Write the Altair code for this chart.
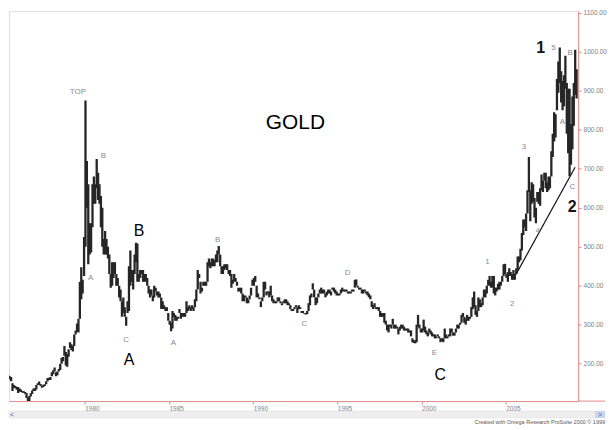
import altair as alt
import pandas as pd

# ---- monthly high / low of gold (USD/oz) ----
FIRST_YEAR, FIRST_MONTH = 1975, 4
highs = {
    1975: [178, 175, 170, 168, 166, 150, 145, 143, 140],
    1976: [140, 136, 134, 130, 129, 127, 125, 113, 117, 124, 131, 136],
    1977: [137, 145, 150, 154, 148, 143, 146, 147, 155, 163, 164, 166],
    1978: [178, 183, 190, 178, 180, 186, 200, 215, 217, 245, 230, 225],
    1979: [237, 255, 250, 246, 275, 285, 303, 315, 410, 447, 415, 525],
    1980: [875, 720, 660, 560, 560, 660, 680, 660, 725, 690, 660, 630],
    1981: [600, 520, 540, 520, 500, 480, 430, 460, 460, 460, 430, 420],
    1982: [400, 390, 360, 370, 345, 320, 360, 450, 490, 440, 440, 480],
    1983: [510, 508, 430, 440, 440, 440, 430, 430, 420, 400, 390, 390],
    1984: [375, 400, 395, 385, 385, 380, 370, 360, 350, 345, 345, 330],
    1985: [310, 305, 335, 330, 325, 320, 320, 340, 330, 330, 330, 330],
    1986: [360, 345, 350, 345, 350, 345, 365, 390, 440, 430, 410, 395],
    1987: [410, 410, 410, 460, 470, 460, 470, 470, 465, 480, 490, 502],
    1988: [480, 450, 450, 455, 455, 455, 440, 440, 430, 415, 430, 420],
    1989: [410, 395, 395, 395, 380, 375, 375, 370, 365, 375, 395, 415],
    1990: [420, 425, 400, 380, 370, 360, 370, 410, 410, 385, 385, 385],
    1991: [400, 375, 365, 360, 360, 370, 370, 360, 355, 360, 365, 365],
    1992: [360, 355, 350, 340, 340, 345, 350, 345, 350, 345, 335, 335],
    1993: [330, 330, 335, 355, 375, 380, 406, 390, 370, 370, 380, 390],
    1994: [395, 390, 390, 380, 385, 390, 390, 385, 395, 395, 390, 385],
    1995: [380, 380, 390, 395, 390, 390, 390, 385, 385, 385, 390, 390],
    1996: [415, 416, 400, 395, 395, 390, 390, 390, 385, 385, 380, 375],
    1997: [360, 350, 355, 345, 345, 345, 335, 330, 330, 330, 310, 300],
    1998: [300, 300, 300, 315, 300, 300, 295, 290, 295, 300, 300, 295],
    1999: [290, 290, 290, 285, 285, 265, 260, 260, 300, 325, 300, 290],
    2000: [290, 313, 295, 285, 280, 290, 285, 280, 275, 275, 270, 275],
    2001: [270, 265, 265, 265, 290, 275, 270, 275, 290, 290, 280, 280],
    2002: [290, 300, 300, 305, 325, 330, 320, 315, 325, 320, 320, 345],
    2003: [370, 385, 350, 335, 370, 365, 355, 370, 390, 390, 400, 415],
    2004: [425, 410, 425, 425, 395, 395, 405, 410, 410, 425, 455, 456],
    2005: [430, 435, 445, 435, 430, 440, 430, 445, 475, 475, 495, 535],
    2006: [570, 570, 585, 645, 730, 645, 665, 660, 625, 600, 640, 640],
    2007: [650, 685, 670, 690, 690, 665, 680, 680, 745, 790, 845, 840],
    2008: [930, 975, 1011, 950, 925, 940, 990, 920, 905, 905, 815, 885],
    2009: [920, 1005, 955],
}
lows = {
    1975: [165, 164, 162, 160, 155, 130, 138, 137, 133],
    1976: [125, 128, 128, 126, 125, 123, 112, 103, 104, 116, 122, 130],
    1977: [130, 134, 145, 146, 143, 138, 140, 143, 147, 155, 158, 158],
    1978: [168, 173, 180, 168, 170, 180, 184, 200, 206, 220, 195, 192],
    1979: [218, 240, 235, 231, 245, 275, 282, 280, 315, 365, 380, 425],
    1980: [500, 600, 455, 480, 485, 550, 610, 610, 650, 620, 610, 550],
    1981: [500, 480, 480, 480, 470, 430, 395, 400, 420, 430, 400, 400],
    1982: [370, 360, 320, 330, 320, 297, 330, 335, 400, 410, 390, 430],
    1983: [460, 410, 410, 420, 430, 410, 410, 410, 400, 380, 370, 375],
    1984: [360, 370, 385, 375, 370, 370, 340, 340, 340, 335, 335, 310],
    1985: [300, 283, 290, 320, 310, 310, 315, 330, 315, 320, 320, 320],
    1986: [330, 335, 340, 335, 340, 335, 345, 360, 390, 420, 380, 385],
    1987: [400, 400, 400, 410, 450, 445, 450, 450, 450, 460, 460, 480],
    1988: [450, 430, 430, 440, 445, 440, 430, 425, 395, 405, 410, 410],
    1989: [400, 385, 385, 380, 360, 360, 370, 355, 355, 365, 375, 400],
    1990: [400, 410, 370, 370, 365, 345, 360, 370, 390, 375, 380, 370],
    1991: [375, 360, 355, 355, 355, 360, 360, 355, 350, 355, 355, 355],
    1992: [350, 350, 340, 335, 335, 340, 345, 330, 340, 340, 330, 330],
    1993: [328, 326, 327, 335, 350, 370, 390, 370, 350, 355, 370, 380],
    1994: [380, 380, 380, 370, 375, 380, 380, 375, 390, 385, 380, 375],
    1995: [375, 375, 380, 385, 385, 385, 385, 380, 380, 380, 385, 385],
    1996: [395, 400, 395, 390, 390, 380, 380, 385, 380, 375, 370, 365],
    1997: [345, 340, 345, 340, 340, 335, 320, 320, 320, 305, 300, 285],
    1998: [280, 295, 290, 300, 290, 290, 290, 275, 285, 290, 290, 285],
    1999: [285, 285, 280, 280, 270, 255, 253, 252, 255, 295, 290, 280],
    2000: [280, 285, 280, 275, 270, 280, 275, 270, 270, 265, 265, 270],
    2001: [265, 255, 258, 255, 265, 265, 265, 270, 270, 280, 272, 272],
    2002: [280, 290, 290, 300, 305, 320, 305, 300, 310, 310, 315, 320],
    2003: [340, 345, 325, 320, 335, 345, 345, 350, 370, 370, 380, 400],
    2004: [400, 395, 395, 380, 375, 385, 390, 390, 400, 410, 425, 430],
    2005: [420, 410, 425, 425, 415, 415, 415, 430, 440, 460, 465, 490],
    2006: [530, 550, 540, 585, 640, 565, 610, 615, 575, 560, 615, 610],
    2007: [605, 645, 640, 670, 650, 640, 645, 650, 680, 730, 770, 780],
    2008: [850, 895, 920, 870, 850, 860, 905, 790, 740, 681, 710, 750],
    2009: [810, 890, 880],
}

# wave annotations (year, price, text)
small_labels = [
    (1979.59, 898, "TOP"), (1981.11, 732, "B"), (1980.35, 419, "A"),
    (1982.46, 261, "C"), (1985.26, 253, "A"), (1987.89, 518, "B"),
    (1993.04, 302, "C"), (1995.61, 432, "D"), (2000.76, 228, "E"),
    (2003.92, 460, "1"), (2005.38, 353, "2"), (2006.08, 755, "3"),
    (2006.90, 539, "4"), (2007.84, 1010, "5"), (2008.83, 997, "B"),
    (2008.36, 819, "A"), (2008.95, 653, "C"),
]
big_labels = [
    (1983.22, 541, "B", "normal"), (1982.63, 210, "A", "normal"),
    (2001.11, 172, "C", "normal"), (2007.08, 1010, "1", "bold"),
    (2008.95, 602, "2", "bold"),
]
trend_t = [2005.61, 2009.12]
trend_p = [429, 704]
title_pos = (1992.51, 817)

x_ticks = [1980, 1985, 1990, 1995, 2000, 2005]
y_ticks = [200, 300, 400, 500, 600, 700, 800, 900, 1000, 1100]

rows = []
for yr in sorted(highs):
    m0 = FIRST_MONTH if yr == FIRST_YEAR else 1
    for i, (h, l) in enumerate(zip(highs[yr], lows[yr])):
        m = m0 + i
        rows.append({"t": yr + (m - 0.5) / 12.0, "hi": h, "lo": l})
df = pd.DataFrame(rows)

RED = "#e38b8b"
W, H = 572, 392
xs = alt.Scale(domain=[1975.5, 2009.3], nice=False, zero=False)
ys = alt.Scale(domain=[104, 1104.5], nice=False, zero=False)

bars = alt.Chart(df).mark_rule(color="#262626", strokeWidth=2.3, clip=True).encode(
    x=alt.X("t:Q", scale=xs,
            axis=alt.Axis(values=x_ticks, format="d", title=None, grid=False,
                          labelAlign="left", labelFontSize=6.5, labelColor="#808080",
                          labelPadding=1, tickSize=3, tickColor=RED,
                          domainColor=RED, labelFlush=False)),
    y=alt.Y("lo:Q", scale=ys,
            axis=alt.Axis(orient="right", values=y_ticks, format=".2f", title=None,
                          grid=False, labelFontSize=6.5, labelColor="#808080",
                          labelPadding=2, tickSize=3, tickColor=RED,
                          domainColor=RED, labelFlush=False)),
    y2="hi:Q",
)

trend = alt.Chart(pd.DataFrame({"t": trend_t, "p": trend_p})).mark_line(
    color="#111111", strokeWidth=1.2).encode(
    x=alt.X("t:Q", scale=xs), y=alt.Y("p:Q", scale=ys))

sl = pd.DataFrame(small_labels, columns=["t", "p", "s"])
small = alt.Chart(sl).mark_text(fontSize=8, color="#8a8a8a").encode(
    x=alt.X("t:Q", scale=xs), y=alt.Y("p:Q", scale=ys), text="s:N")

bl = pd.DataFrame(big_labels, columns=["t", "p", "s", "w"])
big_n = alt.Chart(bl[bl.w == "normal"]).mark_text(fontSize=16, color="#000000").encode(
    x=alt.X("t:Q", scale=xs), y=alt.Y("p:Q", scale=ys), text="s:N")
big_b = alt.Chart(bl[bl.w == "bold"]).mark_text(fontSize=16, fontWeight="bold",
                                               color="#111111").encode(
    x=alt.X("t:Q", scale=xs), y=alt.Y("p:Q", scale=ys), text="s:N")

title = alt.Chart(pd.DataFrame({"t": [title_pos[0]], "p": [title_pos[1]], "s": ["GOLD"]})).mark_text(
    fontSize=21, color="#000000").encode(
    x=alt.X("t:Q", scale=xs), y=alt.Y("p:Q", scale=ys), text="s:N")

one = pd.DataFrame({"k": [0]})
baseline_ext = alt.Chart(one).mark_rule(color=RED, strokeWidth=1).encode(
    x=alt.value(W), x2=alt.value(599), y=alt.value(H))
scroll = alt.Chart(one).mark_rect(color="#eeeeee", stroke="#dddddd", strokeWidth=0.5).encode(
    x=alt.value(0), x2=alt.value(599), y=alt.value(H + 10), y2=alt.value(H + 17))
scroll_btn = alt.Chart(one).mark_rect(color="#c9d6f0").encode(
    x=alt.value(589), x2=alt.value(599), y=alt.value(H + 10), y2=alt.value(H + 17))
arrows = alt.Chart(pd.DataFrame({"s": ["<", ">"], "xx": [3, 594]})).mark_text(
    fontSize=7, color="#3a5fb0", baseline="middle").encode(
    x=alt.X("xx:Q", scale=None), y=alt.value(H + 13.5), text="s:N")
credit = alt.Chart(one).mark_text(
    text="Created with Omega Research ProSuite 2000 © 1999", fontSize=5.5,
    color="#555555", align="right", baseline="alphabetic").encode(
    x=alt.value(599), y=alt.value(H + 23))

chart = alt.layer(bars, trend, small, big_n, big_b, title,
                  baseline_ext, scroll, scroll_btn, arrows, credit).properties(
    width=W, height=H, padding=0, background="#ffffff"
).configure_view(stroke="#a0a0a0", strokeWidth=1.5).configure(font="Liberation Sans")

chart.save("out.html", embed_options={"renderer": "svg", "actions": False})
